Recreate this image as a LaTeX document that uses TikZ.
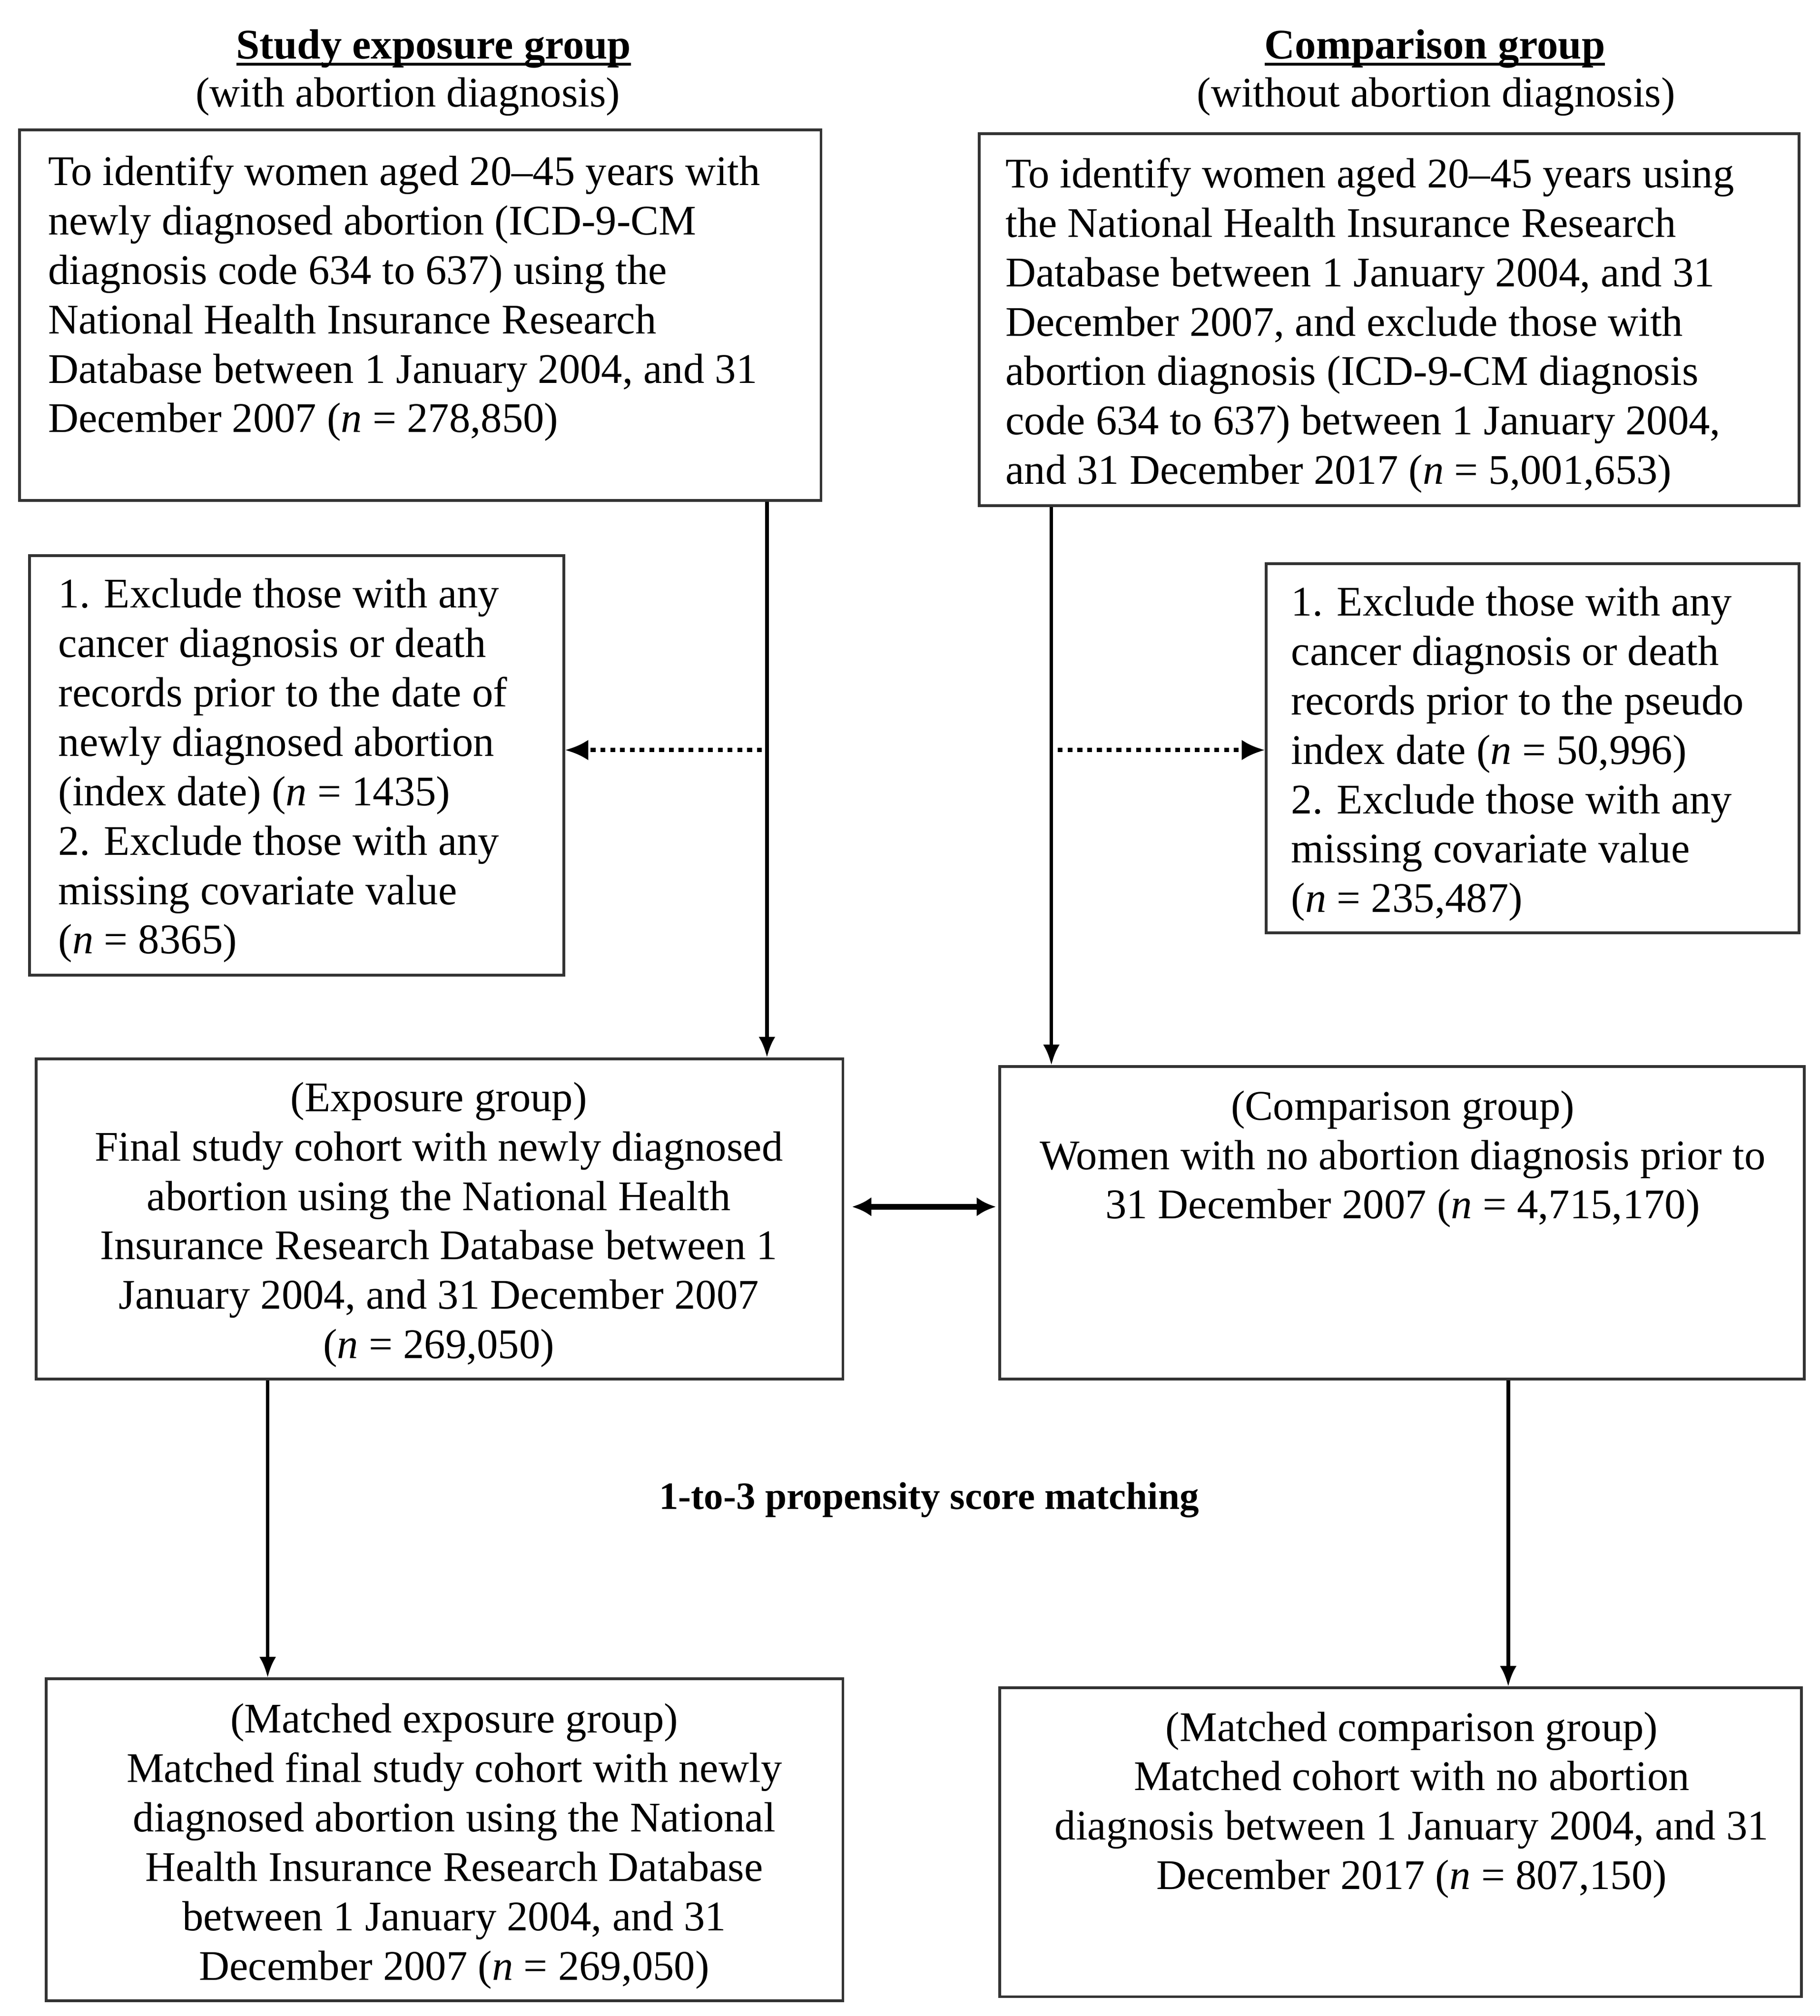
\documentclass[tikz,border=0pt]{standalone}
\usepackage{fontspec}
\setmainfont{Liberation Serif}
\usetikzlibrary{fit,arrows.meta,calc}
\newcommand{\myul}[1]{\setbox0=\hbox{#1}\leavevmode\rlap{\rule[-2.6pt]{\wd0}{1pt}}\box0}
\begin{document}
\begin{tikzpicture}[x=0.5pt,y=-0.5pt,
  boxn/.style={draw=black!80, line width=1.1pt, inner sep=0pt},
  bodytxt/.style={inner sep=0pt, font={\fontsize{16.4}{19.2}\selectfont}, text=black},
  lefttxt/.style={bodytxt, align=left, anchor=west},
  centtxt/.style={bodytxt, align=center, anchor=center},
  arr/.style={line width=1.4pt, -{Latex[length=8pt,width=6.5pt]}},
  dotarr/.style={line width=1.6pt, dash pattern=on 1.9pt off 1.9pt, -{Latex[length=9pt,width=8pt]}},
  dblarr/.style={line width=2.2pt, {Latex[length=7.5pt,width=7.5pt]}-{Latex[length=7.5pt,width=7.5pt]}}
]
\useasboundingbox[fill=white] (0,0) rectangle (1414,1567);

% titles
\node[bodytxt, font={\fontsize{16.4}{19.2}\selectfont\bfseries}] (t1) at (337,38) {\myul{Study exposure group}};
\node[bodytxt] (t2) at (317,75) {(with abortion diagnosis)};
\node[bodytxt, font={\fontsize{16.4}{19.2}\selectfont\bfseries}] (t3) at (1115,38) {\myul{Comparison group}};
\node[bodytxt] (t4) at (1116,75) {(without abortion diagnosis)};

% boxes
\node[boxn, fit={(15,101) (638,389)}] (A) {};
\node[boxn, fit={(761,104) (1398,393)}] (B) {};
\node[boxn, fit={(23,432) (438,758)}] (C) {};
\node[boxn, fit={(984,438) (1398,725)}] (D) {};
\node[boxn, fit={(28,823) (655,1072)}] (E) {};
\node[boxn, fit={(777,829) (1402,1072)}] (F) {};
\node[boxn, fit={(36,1305) (655,1555)}] (G) {};
\node[boxn, fit={(777,1312) (1400,1552)}] (H) {};

% texts
\node[lefttxt] (tA) at (37,232) {To identify women aged 20–45 years with\\
newly diagnosed abortion (ICD-9-CM\\
diagnosis code 634 to 637) using the\\
National Health Insurance Research\\
Database between 1 January 2004, and 31\\
December 2007 (\textit{n} = 278,850)};

\node[lefttxt] (tB) at (781,253) {To identify women aged 20–45 years using\\
the National Health Insurance Research\\
Database between 1 January 2004, and 31\\
December 2007, and exclude those with\\
abortion diagnosis (ICD-9-CM diagnosis\\
code 634 to 637) between 1 January 2004,\\
and 31 December 2017 (\textit{n} = 5,001,653)};

\node[lefttxt] (tC) at (45,599) {1. Exclude those with any\\
cancer diagnosis or death\\
records prior to the date of\\
newly diagnosed abortion\\
(index date) (\textit{n} = 1435)\\
2. Exclude those with any\\
missing covariate value\\
(\textit{n} = 8365)};

\node[lefttxt] (tD) at (1003,586) {1. Exclude those with any\\
cancer diagnosis or death\\
records prior to the pseudo\\
index date (\textit{n} = 50,996)\\
2. Exclude those with any\\
missing covariate value\\
(\textit{n} = 235,487)};

\node[centtxt] (tE) at (341,952) {(Exposure group)\\
Final study cohort with newly diagnosed\\
abortion using the National Health\\
Insurance Research Database between 1\\
January 2004, and 31 December 2007\\
(\textit{n} = 269,050)};

\node[centtxt] (tF) at (1090,901) {(Comparison group)\\
Women with no abortion diagnosis prior to\\
31 December 2007 (\textit{n} = 4,715,170)};

\node[centtxt] (tG) at (353,1435) {(Matched exposure group)\\
Matched final study cohort with newly\\
diagnosed abortion using the National\\
Health Insurance Research Database\\
between 1 January 2004, and 31\\
December 2007 (\textit{n} = 269,050)};

\node[centtxt] (tH) at (1097,1403) {(Matched comparison group)\\
Matched cohort with no abortion\\
diagnosis between 1 January 2004, and 31\\
December 2017 (\textit{n} = 807,150)};

\node[inner sep=0pt, font={\fontsize{15}{18}\selectfont\bfseries}] (lab) at (722,1166) {1-to-3 propensity score matching};

% helper coordinates
\coordinate (ax) at (596,0);
\coordinate (bx) at (817,0);
\coordinate (ex) at (208,0);
\coordinate (fx) at (1172,0);
\coordinate (sl) at (592,583);
\coordinate (sr) at (822,583);
\coordinate (dm) at (716,938);

% connectors
\draw[arr] (A.south -| ax) -- (E.north -| ax);
\draw[arr] (B.south -| bx) -- (F.north -| bx);
\draw[dotarr] (sl) -- (C.east |- sl);
\draw[dotarr] (sr) -- (D.west |- sr);
\draw[dblarr, shorten <=3pt, shorten >=1pt] (E.east |- dm) -- (F.west |- dm);
\draw[arr] (E.south -| ex) -- (G.north -| ex);
\draw[arr] (F.south -| fx) -- (H.north -| fx);
\end{tikzpicture}
\end{document}
